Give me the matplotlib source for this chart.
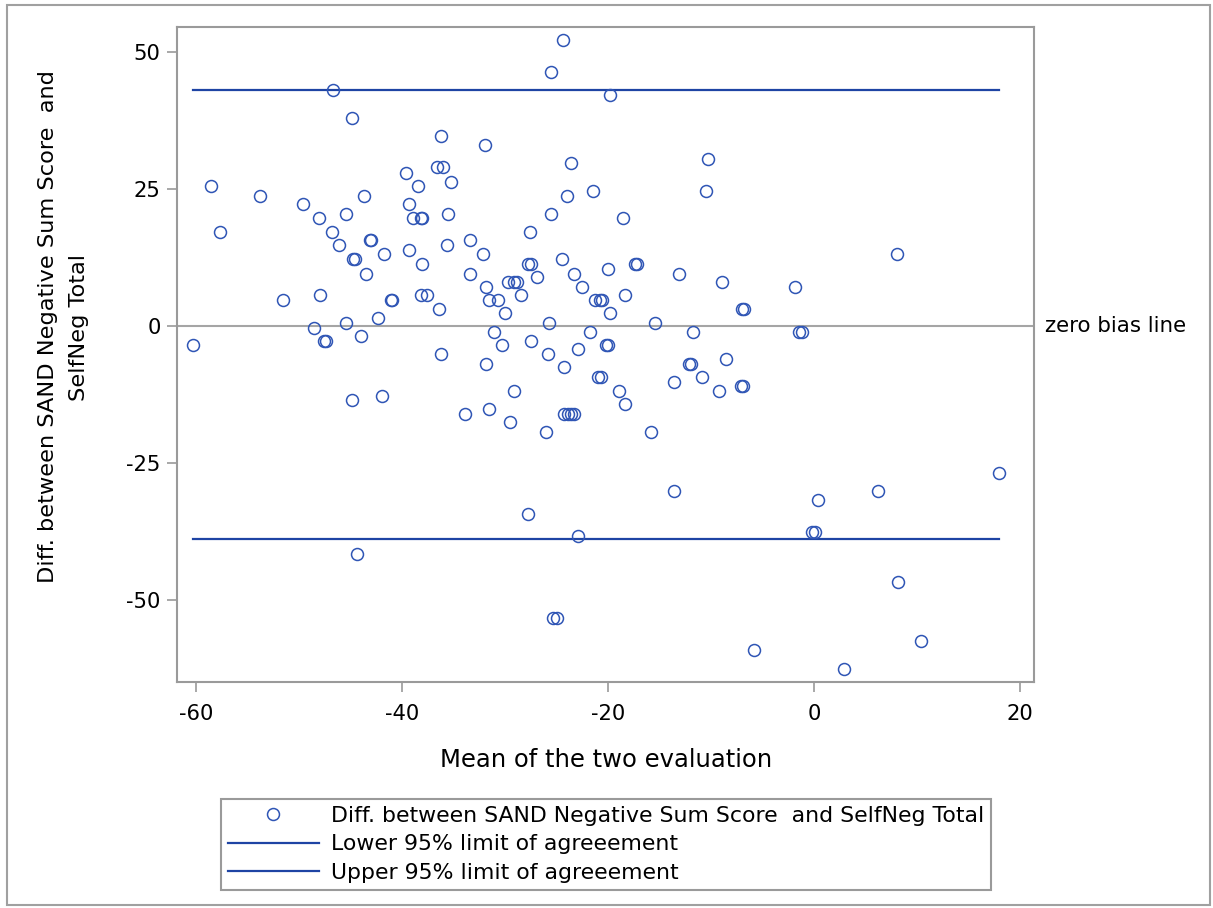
"""Bland-Altman style agreement plot: SAND negative sum score vs SelfNeg total."""

import matplotlib
matplotlib.use('Agg')
import matplotlib.pyplot as plt
from matplotlib.patches import Rectangle

# mean of the two evaluations (x) and their difference (y)
mean_vals = [
    -46.65, -44.8, -36.2, -36.6, -36.0, -39.6, -38.4, -35.2, -58.5, -53.8,
    -43.7, -49.6, -39.3, -48.0, -45.4, -38.9, -38.1, -38.0, -35.5, -57.7,
    -46.8, -46.1, -43.1, -43.0, -41.7, -39.3, -35.6, -33.4, -44.7, -44.5,
    -38.0, -43.5, -33.4, -51.5, -47.9, -41.1, -41.0, -38.1, -37.6, -36.4,
    -42.3, -48.5, -45.4, -44.0, -60.3, -47.6, -47.4, -36.2,
    -24.4, -25.5, -19.8, -31.9, -23.6, -24.0, -21.4, -10.5, -25.5, -18.5,
    -27.6, -32.1, -27.8, -27.5, -24.5, -23.3, -20.0, -17.4, -17.2, -13.1,
    -26.9, -29.7, -29.1, -28.8, -31.8, -22.5, -31.5, -30.7, -28.4, -21.2,
    -20.8, -20.6, -18.3, -30.0, -19.8, -25.7, -15.4, -31.1, -21.7, -11.7,
    -30.3, -27.5, -20.2, -20.0, -22.9,
    -10.3, 8.1, -8.9, -1.8, -7.0, -6.8, -1.4, -1.2,
    -44.8, -41.9, -44.4,
    -31.8, -25.8, -24.3, -29.1, -21.0, -20.7, -18.9, -18.3, -33.9, -31.5,
    -29.5, -24.3, -23.9, -23.6, -23.3, -26.0, -15.8, -13.6, -12.1, -11.9,
    -10.9, -8.5, -9.2, -7.1, -6.9, -13.6, -27.8, -22.9, -25.3, -24.9,
    18.0, 6.2, 0.4, -0.2, 0.1, 8.2, 10.4, -5.8, 2.9,
]
diff_vals = [
    43.1, 38.0, 34.7, 29.0, 29.0, 28.0, 25.6, 26.4, 25.6, 23.8,
    23.8, 22.3, 22.3, 19.8, 20.5, 19.8, 19.8, 19.8, 20.5, 17.2,
    17.2, 14.8, 15.7, 15.7, 13.2, 13.9, 14.8, 15.7, 12.3, 12.3,
    11.4, 9.6, 9.6, 4.8, 5.7, 4.8, 4.8, 5.7, 5.7, 3.1,
    1.5, -0.3, 0.6, -1.8, -3.5, -2.7, -2.7, -5.1,
    52.2, 46.4, 42.2, 33.1, 29.8, 23.8, 24.7, 24.7, 20.5, 19.8,
    17.2, 13.2, 11.4, 11.4, 12.3, 9.6, 10.5, 11.4, 11.4, 9.6,
    9.0, 8.1, 8.1, 8.1, 7.2, 7.2, 4.8, 4.8, 5.7, 4.8,
    4.8, 4.8, 5.7, 2.3, 2.3, 0.6, 0.6, -1.0, -1.0, -1.0,
    -3.5, -2.7, -3.5, -3.5, -4.2,
    30.5, 13.2, 8.1, 7.2, 3.1, 3.1, -1.0, -1.0,
    -13.6, -12.7, -41.7,
    -6.9, -5.1, -7.5, -11.8, -9.3, -9.3, -11.8, -14.2, -16.0, -15.1,
    -17.5, -16.0, -16.0, -16.0, -16.0, -19.3, -19.3, -10.2, -6.9, -6.9,
    -9.3, -6.1, -11.8, -10.9, -10.9, -30.2, -34.4, -38.3, -53.4, -53.4,
    -26.9, -30.2, -31.8, -37.7, -37.7, -46.8, -57.6, -59.2, -62.6,
]

upper_loa = 43.2
lower_loa = -38.9
x_ticks = [-60, -40, -20, 0, 20]
y_ticks = [-50, -25, 0, 25, 50]

MARKER_BLUE = '#2F55B5'
LINE_BLUE = '#1E44A4'
FRAME_GRAY = '#9A9A9A'

plt.rcParams['axes.unicode_minus'] = False  # SAS draws plain hyphens


def main():
    fig = plt.figure(figsize=(12.13, 9.08), dpi=100)
    W, H = 1213, 908
    # axes box in pixels of the reference: left 177, right 1034, top 27, bottom 682
    ax = fig.add_axes([177.3 / W, 1 - 681.7 / H, (1034.3 - 177.3) / W, (681.7 - 27.3) / H])

    x_lo, x_hi = min(mean_vals), max(mean_vals)

    ax.axhline(0, color='#A5A5A5', linewidth=1.5, zorder=1)
    ax.plot(mean_vals, diff_vals, linestyle='none', marker='o', markersize=8.6,
            markerfacecolor='none', markeredgecolor=MARKER_BLUE, markeredgewidth=1.1,
            label='Diff. between SAND Negative Sum Score  and SelfNeg Total', zorder=3)
    ax.plot([x_lo, x_hi], [lower_loa, lower_loa], color=LINE_BLUE, linewidth=1.6,
            label='Lower 95% limit of agreeement', zorder=2)
    ax.plot([x_lo, x_hi], [upper_loa, upper_loa], color=LINE_BLUE, linewidth=1.6,
            label='Upper 95% limit of agreeement', zorder=2)

    ax.set_xlim(-61.8, 21.4)
    ax.set_ylim(-65.0, 54.6)
    ax.set_xticks(x_ticks)
    ax.set_yticks(y_ticks)
    ax.tick_params(direction='out', length=7, width=1.2, color=FRAME_GRAY, labelsize=15.2)
    ax.tick_params(axis='x', pad=9)
    ax.tick_params(axis='y', pad=5)
    for sp in ax.spines.values():
        sp.set_color(FRAME_GRAY)
        sp.set_linewidth(1.5)

    ax.annotate('zero bias line', xy=(1.0, 0), xycoords=('axes fraction', 'data'),
                xytext=(8, 0), textcoords='offset points', va='center', ha='left',
                fontsize=15.4, annotation_clip=False)

    ax.set_xlabel('Mean of the two evaluation', fontsize=17.5)
    ax.xaxis.set_label_coords(0.5, -0.1197)
    ax.xaxis.label.set_verticalalignment('center')
    ax.set_ylabel('Diff. between SAND Negative Sum Score  and\nSelfNeg Total',
                  fontsize=16.2, linespacing=1.65)
    ax.yaxis.set_label_coords(-0.133, 0.542)
    ax.yaxis.label.set_verticalalignment('center')

    leg = fig.legend(loc='upper left', bbox_to_anchor=(221 / W, 1 - 799 / H),
                     borderaxespad=0, fontsize=15.8, numpoints=1, handlelength=4.15,
                     handletextpad=0.55, labelspacing=0.4, borderpad=0.3,
                     fancybox=False, framealpha=1, edgecolor=FRAME_GRAY)
    leg.get_frame().set_linewidth(1.5)

    # thin gray border around the whole graph
    fig.patches.append(Rectangle((7 / W, 1 - 905 / H), (1210 - 7) / W, (905 - 5) / H,
                                 transform=fig.transFigure, fill=False,
                                 edgecolor='#A0A0A0', linewidth=1.5))

    fig.savefig('out.png', dpi=100)


if __name__ == '__main__':
    main()
